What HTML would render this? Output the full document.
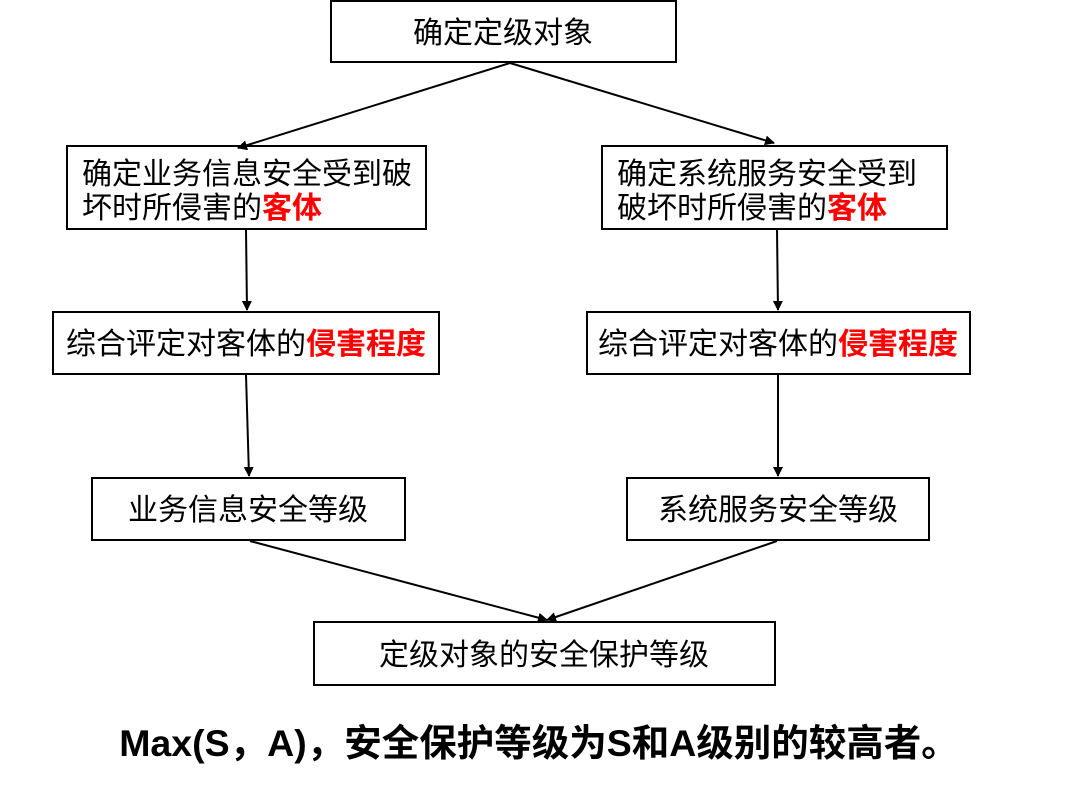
<!DOCTYPE html>
<html><head><meta charset="utf-8"><style>
html,body{margin:0;padding:0;background:#fff;}
svg{display:block;}
text{font-family:"Liberation Sans","Noto Sans CJK SC",sans-serif;font-size:30px;fill:#000;}
.r{fill:#f00;font-weight:bold;}
</style></head><body>
<svg width="1089" height="789" viewBox="0 0 1089 789">
<defs><marker id="a" markerWidth="10" markerHeight="10" refX="9" refY="5" orient="auto" markerUnits="userSpaceOnUse"><path d="M0,0 L10,5 L0,10 z" fill="#000"/></marker></defs>
<g fill="none" stroke="#000" stroke-width="2">
<rect x="331" y="1" width="345" height="61"/>
<rect x="67" y="146" width="359" height="83"/>
<rect x="602" y="146" width="345" height="83"/>
<rect x="53" y="312" width="386" height="62"/>
<rect x="587" y="312" width="383" height="62"/>
<rect x="92" y="478" width="313" height="62"/>
<rect x="627" y="478" width="302" height="62"/>
<rect x="314" y="622" width="461" height="63"/>
</g>
<g stroke="#000" stroke-width="2" marker-end="url(#a)">
<line x1="510" y1="63" x2="238" y2="148"/>
<line x1="510" y1="63" x2="774" y2="143"/>
<line x1="246" y1="230" x2="247" y2="310"/>
<line x1="777" y1="230" x2="778" y2="310"/>
<line x1="246" y1="375" x2="249" y2="476"/>
<line x1="778" y1="375" x2="778" y2="476"/>
<line x1="250" y1="541" x2="547" y2="620"/>
<line x1="777" y1="541" x2="547" y2="620"/>
</g>
<text x="503" y="43" text-anchor="middle">确定定级对象</text>
<text x="82" y="184">确定业务信息安全受到破</text>
<text x="82" y="218">坏时所侵害的<tspan class="r">客体</tspan></text>
<text x="617" y="184">确定系统服务安全受到</text>
<text x="617" y="218">破坏时所侵害的<tspan class="r">客体</tspan></text>
<text x="246" y="354" text-anchor="middle">综合评定对客体的<tspan class="r">侵害程度</tspan></text>
<text x="778" y="354" text-anchor="middle">综合评定对客体的<tspan class="r">侵害程度</tspan></text>
<text x="248" y="520" text-anchor="middle">业务信息安全等级</text>
<text x="778" y="520" text-anchor="middle">系统服务安全等级</text>
<text x="544" y="665" text-anchor="middle">定级对象的安全保护等级</text>
<text x="539" y="756" text-anchor="middle" style="font-size:37.5px;font-weight:bold">Max(S，A)，安全保护等级为S和A级别的较高者。</text>
</svg>
</body></html>
